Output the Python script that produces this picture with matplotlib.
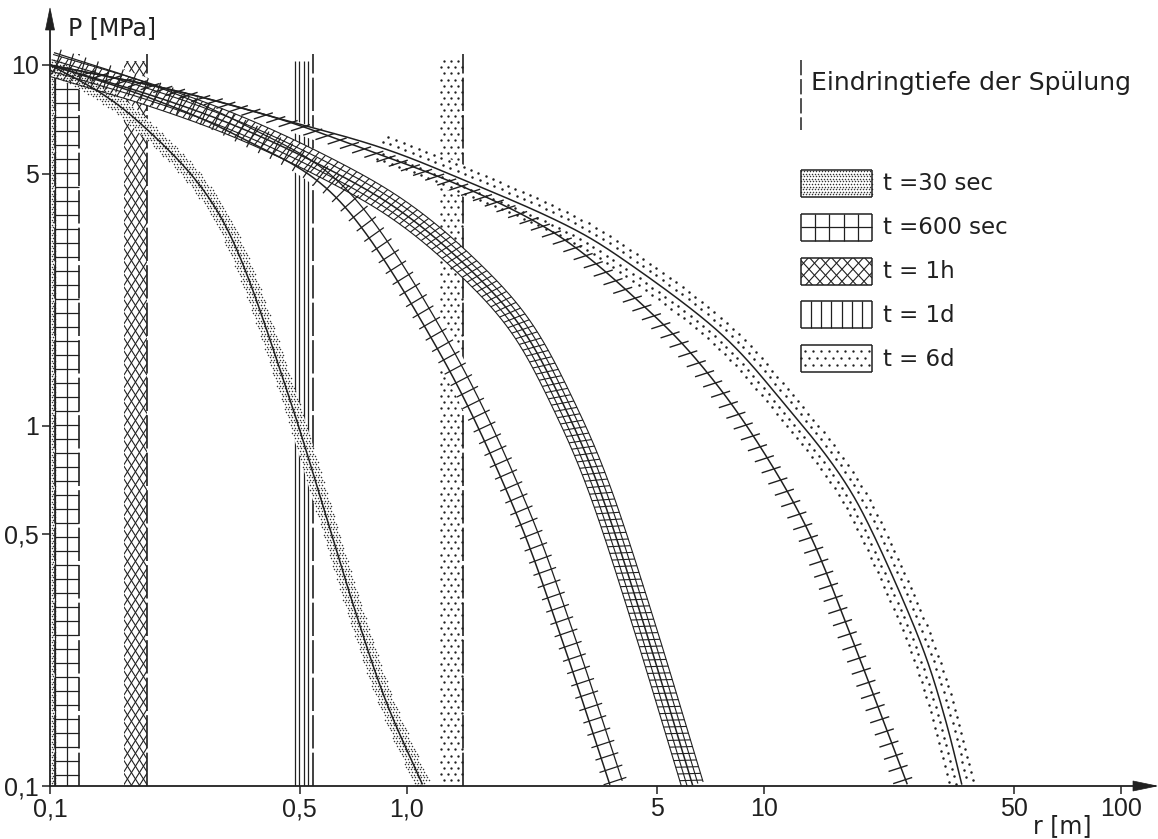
import numpy as np
import matplotlib
matplotlib.use('Agg')
import matplotlib.pyplot as plt
from matplotlib import path
from matplotlib.collections import LineCollection
from matplotlib.patches import Polygon

plt.rcParams['font.family'] = ['DejaVu Sans']
NUM_FONT = ['Liberation Sans Narrow', 'Liberation Sans', 'DejaVu Sans']

W, H = 1158, 839
INK = '#202020'

# pressure profiles p(r) [MPa] for the five times
r_30s = [0.1, 0.138, 0.179, 0.263, 0.341, 0.470, 0.575, 0.70, 0.87, 1.11]
p_30s = [10, 8.41, 6.90, 4.65, 2.93, 1.18, 0.621, 0.328, 0.173, 0.1]

r_600s = [0.1, 0.191, 0.341, 0.649, 1.24, 1.98, 2.68, 3.71]
p_600s = [10, 8.10, 6.30, 4.20, 1.58, 0.60, 0.265, 0.1]

r_1h = [0.1, 0.191, 0.341, 0.608, 0.955, 1.44, 2.08, 2.77, 3.48, 4.58, 6.32]
p_1h = [10, 8.26, 6.70, 5.12, 3.95, 2.82, 1.89, 1.12, 0.657, 0.286, 0.1]

r_1d = [0.1, 0.221, 0.421, 0.649, 1.44, 2.74, 4.89, 6.75, 9.31, 13.2, 17.4, 21.1, 25.3]
p_1d = [10, 8.52, 7.18, 6.19, 4.59, 3.30, 2.03, 1.45, 0.940, 0.519, 0.265, 0.161, 0.1]

r_6d = [0.1, 0.221, 0.421, 0.840, 1.44, 2.68, 3.95, 7.53, 11.6, 16.0, 19.8, 27.3, 32.1, 35.9]
p_6d = [10, 8.52, 7.18, 5.92, 4.80, 3.67, 2.93, 1.81, 1.125, 0.753, 0.523, 0.254, 0.155, 0.1]

# penetration depth of the mud filtrate, band from depth_lo to depth_hi [m]
depth_lo = [0.100, 0.103, 0.161, 0.470, 1.245]
depth_hi = [0.103, 0.1205, 0.187, 0.545, 1.436]

labels = ['t =30 sec', 't =600 sec', 't = 1h', 't = 1d', 't = 6d']
styles = ['fine', 'grid', 'diamond', 'lines', 'dots']
dots_from_r = 0.84   # 6 d profile runs together with 1 d before this

xticks = [0.1, 0.5, 1, 5, 10, 50, 100]
xlabels = ['0,1', '0,5', '1,0', '5', '10', '50', '100']
yticks = [0.1, 0.5, 1, 5, 10]
ylabels = ['0,1', '0,5', '1', '5', '10']

fig = plt.figure(figsize=(W / 100, H / 100), dpi=100)
fig.patch.set_facecolor('white')
ax = fig.add_axes([50 / W, 53 / H, 1105 / W, 774 / H])
ax.set_xscale('log')
ax.set_yscale('log')
ax.set_xlim(0.1, 0.1 * 10 ** (1105 / 357))
ax.set_ylim(0.1, 0.1 * 10 ** (774 / 360.5))
ax.set_autoscale_on(False)

to_px = ax.transData.transform
to_data = ax.transData.inverted().transform


def img(x, y):
    # image pixel (y down) -> display pixel
    return np.array([x, H - y], float)


def polyline(q, lw=1.0, z=4, **kw):
    d = to_data(np.asarray(q, float))
    return ax.plot(d[:, 0], d[:, 1], color=INK, lw=lw, zorder=z,
                   solid_capstyle='butt', **kw)[0]


def segments(segs, lw=0.9, z=3):
    segs = np.asarray(segs, float)
    d = to_data(segs.reshape(-1, 2)).reshape(segs.shape)
    lc = LineCollection(d, colors=INK, linewidths=lw, zorder=z)
    ax.add_collection(lc, autolim=False)
    return lc


def dots(pts, ms, z=3, color=INK):
    pts = np.asarray(pts, float)
    if len(pts) == 0:
        return
    d = to_data(pts)
    ax.plot(d[:, 0], d[:, 1], ls='none', marker='o', ms=ms, mew=0,
            color=color, zorder=z)


def white(poly, z=2):
    ax.add_patch(Polygon(to_data(poly), closed=True, fc='white', ec='none', zorder=z))


def lattice(poly, step, stagger=True):
    poly = np.asarray(poly, float)
    (x0, y0), (x1, y1) = poly.min(0), poly.max(0)
    xs = np.arange(x0, x1 + step, step)
    ys = np.arange(y0, y1 + step, step * (0.87 if stagger else 1.0))
    pts = np.vstack([np.column_stack([xs + (step / 2 if stagger and j % 2 else 0),
                                      np.full_like(xs, y)]) for j, y in enumerate(ys)])
    return pts[path.Path(poly).contains_points(pts)]


def catmull(pts, k=14):
    p = np.vstack([2 * pts[0] - pts[1], pts, 2 * pts[-1] - pts[-2]])
    tt = np.linspace(0, 1, k, endpoint=False)[:, None]
    out = []
    for i in range(1, len(p) - 2):
        p0, p1, p2, p3 = p[i - 1], p[i], p[i + 1], p[i + 2]
        out.append(0.5 * (2 * p1 + (-p0 + p2) * tt + (2 * p0 - 5 * p1 + 4 * p2 - p3) * tt ** 2
                          + (-p0 + 3 * p1 - 3 * p2 + p3) * tt ** 3))
    out.append(pts[-1:])
    return np.vstack(out)


def resample(pts, step=1.0):
    d = np.hypot(*np.diff(pts, axis=0).T)
    s = np.concatenate([[0], np.cumsum(d)])
    si = np.arange(0, s[-1], step)
    return si, np.column_stack([np.interp(si, s, pts[:, 0]), np.interp(si, s, pts[:, 1])])


def smooth(q, sigma=14):
    # gaussian smoothing of the pen stroke, ends pinned by point reflection
    k = int(3 * sigma)
    g = np.exp(-0.5 * (np.arange(-k, k + 1) / sigma) ** 2)
    g /= g.sum()
    pad = np.vstack([2 * q[0] - q[k:0:-1], q, 2 * q[-1] - q[-2:-k - 2:-1]])
    return np.column_stack([np.convolve(pad[:, j], g, mode='valid') for j in range(2)])


def stroke(r, p):
    pts = catmull(to_px(np.column_stack([r, p])))
    _, q = resample(pts, 1.0)
    s, q = resample(smooth(q), 1.0)
    t = np.gradient(q, axis=0)
    t /= np.hypot(t[:, 0], t[:, 1])[:, None]
    n = np.column_stack([-t[:, 1], t[:, 0]])
    return s, q, n


def clip_to(artist, rect):
    artist.set_clip_path(Polygon(to_data(rect), closed=True, transform=ax.transData))


def box_pattern(x0, y0, x1, y1, style, legend=False, z=1):
    rect = np.array([[x0, y0], [x1, y0], [x1, y1], [x0, y1]])
    if style == 'fine':
        dots(lattice(rect, 3.0), 1.1, z, color='#333333')
    elif style == 'dots':
        dots(lattice(rect, 8.0 if legend else 7.0), 1.7, z)
    elif style == 'grid':
        if legend:
            xs = np.linspace(x0, x1, 6)[1:-1]
            ym = (y0 + y1) / 2
            segments([[[x, y0], [x, y1]] for x in xs] + [[[x0, ym], [x1, ym]]], z=z)
        else:
            xm = (x0 + x1) / 2
            ys = np.arange(y1 - 14, y0, -14)
            segments([[[x0, y0], [x0, y1]], [[xm, y0], [xm, y1]]]
                     + [[[x0, y], [x1, y]] for y in ys], z=z)
    elif style == 'diamond':
        k = 1.1 if legend else 1.6
        step = 11 if legend else 8
        w = x1 - x0
        bs = np.arange(y0 - k * w, y1 + k * w, step * k)
        segs = [[[x0, b], [x1, b + k * w]] for b in bs] + [[[x0, b + k * w], [x1, b]] for b in bs]
        clip_to(segments(segs, lw=0.8, z=z), rect)
    elif style == 'lines':
        xs = np.linspace(x0, x1, 8 if legend else 6)[1:-1]
        segments([[[x, y0], [x, y1]] for x in xs], lw=0.9, z=z)
    if legend:
        segments([[[x0, y0], [x1, y0]], [[x1, y0], [x1, y1]],
                  [[x1, y1], [x0, y1]], [[x0, y1], [x0, y0]]], lw=1.1, z=z)


# penetration-depth bands
y_bot = to_px([[1, 0.1]])[0, 1]
y_top = to_px([[1, 10.25]])[0, 1]
y_edge = to_px([[1, 10.7]])[0, 1]
for lo, hi, st in zip(depth_lo, depth_hi, styles):
    x0 = to_px([[lo, 1]])[0, 0]
    x1 = to_px([[hi, 1]])[0, 0]
    box_pattern(x0, y_bot, x1, y_top, st)
    polyline([[x1, y_bot], [x1, y_edge]], lw=1.2, z=1, dashes=(20, 2.5))


# ribbons along the profiles
def ribbon_fine(q, n, s):
    poly = np.vstack([q + 8 * n, (q - 8 * n)[::-1]])
    white(poly)
    dots(lattice(poly, 3.0), 1.1, color='#333333')


def ribbon_grid(q, n, s):
    white(np.vstack([q - 6 * n, (q + 18 * n)[::-1]]))
    polyline(q + 13 * n, lw=0.9, z=3)
    idx = np.arange(6, len(q), 13)
    segments([[q[i] - 6 * n[i], q[i] + 18 * n[i]] for i in idx])


def ribbon_diamond(q, n, s):
    white(np.vstack([q - 11 * n, (q + 11 * n)[::-1]]))
    for o in (-11, -5.5, 5.5, 11):
        polyline(q + o * n, lw=0.8, z=3)
    idx = np.arange(6, len(q) - 3, 7)
    segments([[q[i - 3] - 11 * n[i - 3], q[i + 3] + 11 * n[i + 3]] for i in idx], lw=0.8)


def ribbon_ticks(q, n, s):
    a = np.radians(18)
    u = np.array([np.cos(a), np.sin(a)])
    i0 = np.searchsorted(s, 40)
    white(np.vstack([q[i0:] - 9 * n[i0:], (q[i0:] + 3 * n[i0:])[::-1]]))
    idx = np.arange(i0, len(q), 13)
    segments([[q[i] - 13 * u, q[i] + 7 * u] for i in idx], lw=1.0)


def ribbon_dots(q, n, s):
    x_from = to_px([[dots_from_r, 1]])[0, 0]
    i0 = np.searchsorted(q[:, 0], x_from)
    white(np.vstack([q[i0:] - 14 * n[i0:], (q[i0:] + 14 * n[i0:])[::-1]]))
    for j, o in enumerate((-12, -6, 6, 12)):
        idx = np.arange(i0 + (j % 2) * 4, len(q), 8)
        dots(q[idx] + o * n[idx], 1.8)


ribbons = [ribbon_fine, ribbon_grid, ribbon_diamond, ribbon_ticks, ribbon_dots]
profiles = [(r_30s, p_30s), (r_600s, p_600s), (r_1h, p_1h), (r_1d, p_1d), (r_6d, p_6d)]
for (r, p), rib in zip(profiles, ribbons):
    s, q, n = stroke(r, p)
    rib(q, n, s)
    polyline(q, lw=1.1, z=4)

# axes, ticks, arrows
for side in ('top', 'right'):
    ax.spines[side].set_visible(False)
for side in ('left', 'bottom'):
    ax.spines[side].set_linewidth(1.3)
    ax.spines[side].set_color(INK)
    ax.spines[side].set_zorder(6)
ax.set_xticks(xticks)
ax.set_xticklabels(xlabels)
ax.set_yticks(yticks)
ax.set_yticklabels(ylabels)
ax.minorticks_off()
ax.tick_params(length=6, width=1.1, color=INK, labelcolor=INK, labelsize=18, pad=2)
for lab in ax.get_xticklabels() + ax.get_yticklabels():
    lab.set_family(NUM_FONT)


def head(tip, direction, length, half):
    d = np.asarray(direction, float)
    nrm = np.array([-d[1], d[0]])
    base = tip - length * d
    tri = np.array([tip, base + half * nrm, base - half * nrm])
    ax.add_patch(Polygon(to_data(tri), closed=True, fc=INK, ec=INK, lw=0.5,
                         zorder=7, clip_on=False))


x_axis = to_px([[0.1, 0.1]])[0]
head(img(1157, 786), (1, 0), 24, 5)
head(np.array([x_axis[0], H - 8.0]), (0, 1), 22, 4.5)

fig.text(68 / W, 1 - 28 / H, 'P [MPa]', fontsize=17, va='center', ha='left', color=INK)
fig.text(1062 / W, 1 - 826 / H, 'r [m]', fontsize=17, va='center', ha='center', color=INK)

# legend
legend_x0, legend_x1 = 801, 872
d0, d1 = img(801, 60), img(801, 130)
polyline([d0, d1], lw=1.1, z=5, dashes=(10, 2.5))
fig.text(811 / W, 1 - 83 / H, 'Eindringtiefe der Spülung', fontsize=18,
         va='center', ha='left', color=INK)
for i, (lab, st) in enumerate(zip(labels, styles)):
    top = 170 + 43.8 * i
    a, b = img(legend_x0, top + 27), img(legend_x1, top)
    box_pattern(a[0], a[1], b[0], b[1], st, legend=True, z=5)
    fig.text(883 / W, 1 - (top + 14) / H, lab, fontsize=16.5, va='center',
             ha='left', color=INK)

fig.savefig('out.png', dpi=100, facecolor='white')
